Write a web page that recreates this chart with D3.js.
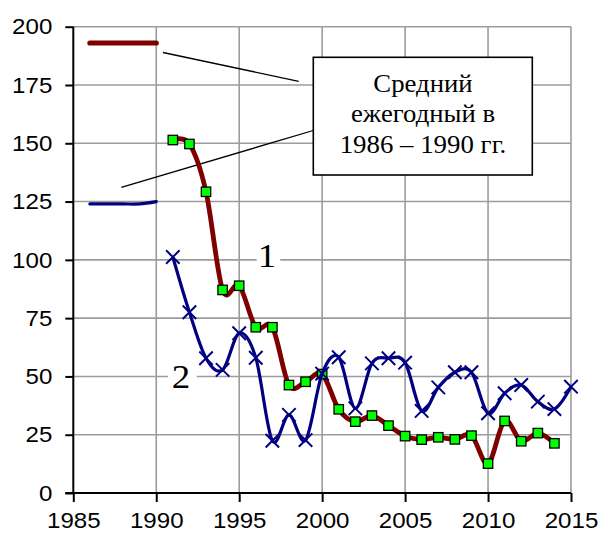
<!DOCTYPE html>
<html><head><meta charset="utf-8">
<script src="https://cdn.jsdelivr.net/npm/d3@7"></script>
<style>
html,body{margin:0;padding:0;background:#fff;}
svg{display:block;}
</style>
</head><body>
<svg id="chart" width="601" height="534"></svg>
<script>
// ---- data ----
const avgYears = [1986, 1987, 1988, 1989, 1990];
const avgSeries1 = [193, 193, 193, 193, 193];
const avgSeries2 = [124, 124, 124, 124, 125];

const years1 = [1991,1992,1993,1994,1995,1996,1997,1998,1999,2000,2001,2002,2003,2004,2005,2006,2007,2008,2009,2010,2011,2012,2013,2014];
const series1 = [151.4,149.7,129.2,87.1,88.9,71.1,71.1,46.3,47.7,51.0,35.9,30.6,33.2,28.9,24.4,22.9,23.9,23.0,24.6,12.6,30.9,22.2,25.7,21.3];

const years2 = [1991,1992,1993,1994,1995,1996,1997,1998,1999,2000,2001,2002,2003,2004,2005,2006,2007,2008,2009,2010,2011,2012,2013,2014,2015];
const series2 = [101.2,77.5,57.8,52.8,68.5,58.0,22.4,33.5,22.7,51.2,58.2,36.3,55.6,57.8,55.9,35.2,45.3,51.8,51.8,34.2,42.8,46.3,39.2,36.0,45.6];

const xTicks = [1985, 1990, 1995, 2000, 2005, 2010, 2015];
const yTicks = [0, 25, 50, 75, 100, 125, 150, 175, 200];
const seriesLabels = ["1", "2"];
const annotationLines = ["Средний", "ежегодный в", "1986 – 1990 гг."];

// ---- chart ----
const svg = d3.select("#chart");
const x = d3.scaleLinear().domain([1985, 2015]).range([73.3, 571]);
const y = d3.scaleLinear().domain([0, 200]).range([493, 26.7]);
const STRETCH = 1.12;
const sans = "'Liberation Sans', Arial, sans-serif";
const serif = "'Liberation Serif', 'Times New Roman', serif";

function stretch(sel) {
  sel.each(function () {
    const w = this.getComputedTextLength();
    d3.select(this).attr("textLength", w * STRETCH).attr("lengthAdjust", "spacingAndGlyphs");
  });
}

// grid
const grid = svg.append("g").attr("stroke", "#9c9c9c").attr("stroke-width", 1.6);
grid.selectAll("line.h").data(yTicks.filter(d => d > 0)).join("line")
  .attr("x1", x(1985)).attr("x2", x(2015)).attr("y1", d => y(d)).attr("y2", d => y(d));
grid.selectAll("line.v").data(xTicks.filter(d => d > 1985)).join("line")
  .attr("x1", d => x(d)).attr("x2", d => x(d)).attr("y1", y(0)).attr("y2", y(200));

// axes
const yAxis = svg.append("g").attr("transform", `translate(${x(1985)},0)`)
  .call(d3.axisLeft(y).tickValues(yTicks).tickSize(8).tickPadding(13).tickSizeOuter(0));
const xAxis = svg.append("g").attr("transform", `translate(0,${y(0)})`)
  .call(d3.axisBottom(x).tickValues(xTicks).tickFormat(d3.format("d")).tickSize(9).tickPadding(10).tickSizeOuter(0));
[yAxis, xAxis].forEach(a => {
  a.select(".domain").attr("stroke", "#000").attr("stroke-width", 2);
  a.selectAll(".tick line").attr("stroke", "#000").attr("stroke-width", 2);
  a.selectAll(".tick text").attr("font-family", sans).attr("font-size", 22.5).attr("fill", "#000")
    .each(function () {
      const n = this.textContent.length;
      d3.select(this).attr("textLength", n * 13.4).attr("lengthAdjust", "spacingAndGlyphs");
    });
});
yAxis.select(".domain").attr("d", `M0,${y(200)}V${y(0)}`);
xAxis.select(".domain").attr("d", `M${x(1985) - 8},0H${x(2015)}`);

// leader lines
const leaders = svg.append("g").attr("stroke", "#000").attr("stroke-width", 1.3);
leaders.append("line").attr("x1", 163).attr("y1", 52.5).attr("x2", 298.7).attr("y2", 81.3);
leaders.append("line").attr("x1", 121.3).attr("y1", 187.3).attr("x2", 313.3).attr("y2", 130.5);

// annotation box
const annWidths = [99.3, 144, 166.7];
svg.append("rect").attr("x", 313.3).attr("y", 57.3).attr("width", 219).attr("height", 117.7)
  .attr("fill", "#fff").attr("stroke", "#000").attr("stroke-width", 1.6);
svg.append("g").selectAll("text").data(annotationLines).join("text")
  .attr("x", 423).attr("y", (d, i) => 91.5 + i * 30.6)
  .attr("text-anchor", "middle").attr("font-family", serif).attr("font-size", 24.5).attr("fill", "#000")
  .attr("textLength", (d, i) => annWidths[i]).attr("lengthAdjust", "spacingAndGlyphs")
  .text(d => d);

// series labels with white background
const labelPos = [{t: seriesLabels[0], cx: 267, gy: 100, bx: 256.7, bw: 23.5, by: 267},
                  {t: seriesLabels[1], cx: 181, gy: 50, bx: 168, bw: 28.7, by: 387.5}];
labelPos.forEach(p => {
  svg.append("rect").attr("x", p.bx).attr("y", y(p.gy) - 3).attr("width", p.bw).attr("height", 6).attr("fill", "#fff");
  svg.append("text").attr("x", p.cx).attr("y", p.by).attr("text-anchor", "middle")
    .attr("font-family", serif).attr("font-size", 33).attr("fill", "#000").text(p.t).call(stretch);
});

const curve = d3.curveCatmullRom.alpha(0);
const line = d3.line().x(d => x(d[0])).y(d => y(d[1])).curve(curve);

const avg1 = avgYears.map((yr, i) => [yr, avgSeries1[i]]);
const avg2 = avgYears.map((yr, i) => [yr, avgSeries2[i]]);
const s1 = years1.map((yr, i) => [yr, series1[i]]);
const s2 = years2.map((yr, i) => [yr, series2[i]]);

// series 1 (dark red)
svg.append("path").datum(avg1).attr("d", line).attr("fill", "none").attr("stroke", "#800000")
  .attr("stroke-width", 5.2).attr("stroke-linecap", "round");
svg.append("path").datum(s1).attr("d", line).attr("fill", "none").attr("stroke", "#800000")
  .attr("stroke-width", 4.8).attr("stroke-linejoin", "round");
svg.append("g").selectAll("rect").data(s1).join("rect")
  .attr("x", d => x(d[0]) - 4.7).attr("y", d => y(d[1]) - 4.7).attr("width", 9.4).attr("height", 9.4)
  .attr("fill", "#00ff00").attr("stroke", "#000").attr("stroke-width", 1.3);

// series 2 (navy)
svg.append("path").datum(avg2).attr("d", line).attr("fill", "none").attr("stroke", "#000080")
  .attr("stroke-width", 3.2).attr("stroke-linecap", "round");
svg.append("path").datum(s2).attr("d", line).attr("fill", "none").attr("stroke", "#000080")
  .attr("stroke-width", 3.2).attr("stroke-linejoin", "round");
const sym = d3.symbol(d3.symbolTimes).size(120);
svg.append("g").selectAll("path").data(s2).join("path")
  .attr("transform", d => `translate(${x(d[0])},${y(d[1])})`).attr("d", sym)
  .attr("fill", "none").attr("stroke", "#000080").attr("stroke-width", 2);
</script>
</body></html>
